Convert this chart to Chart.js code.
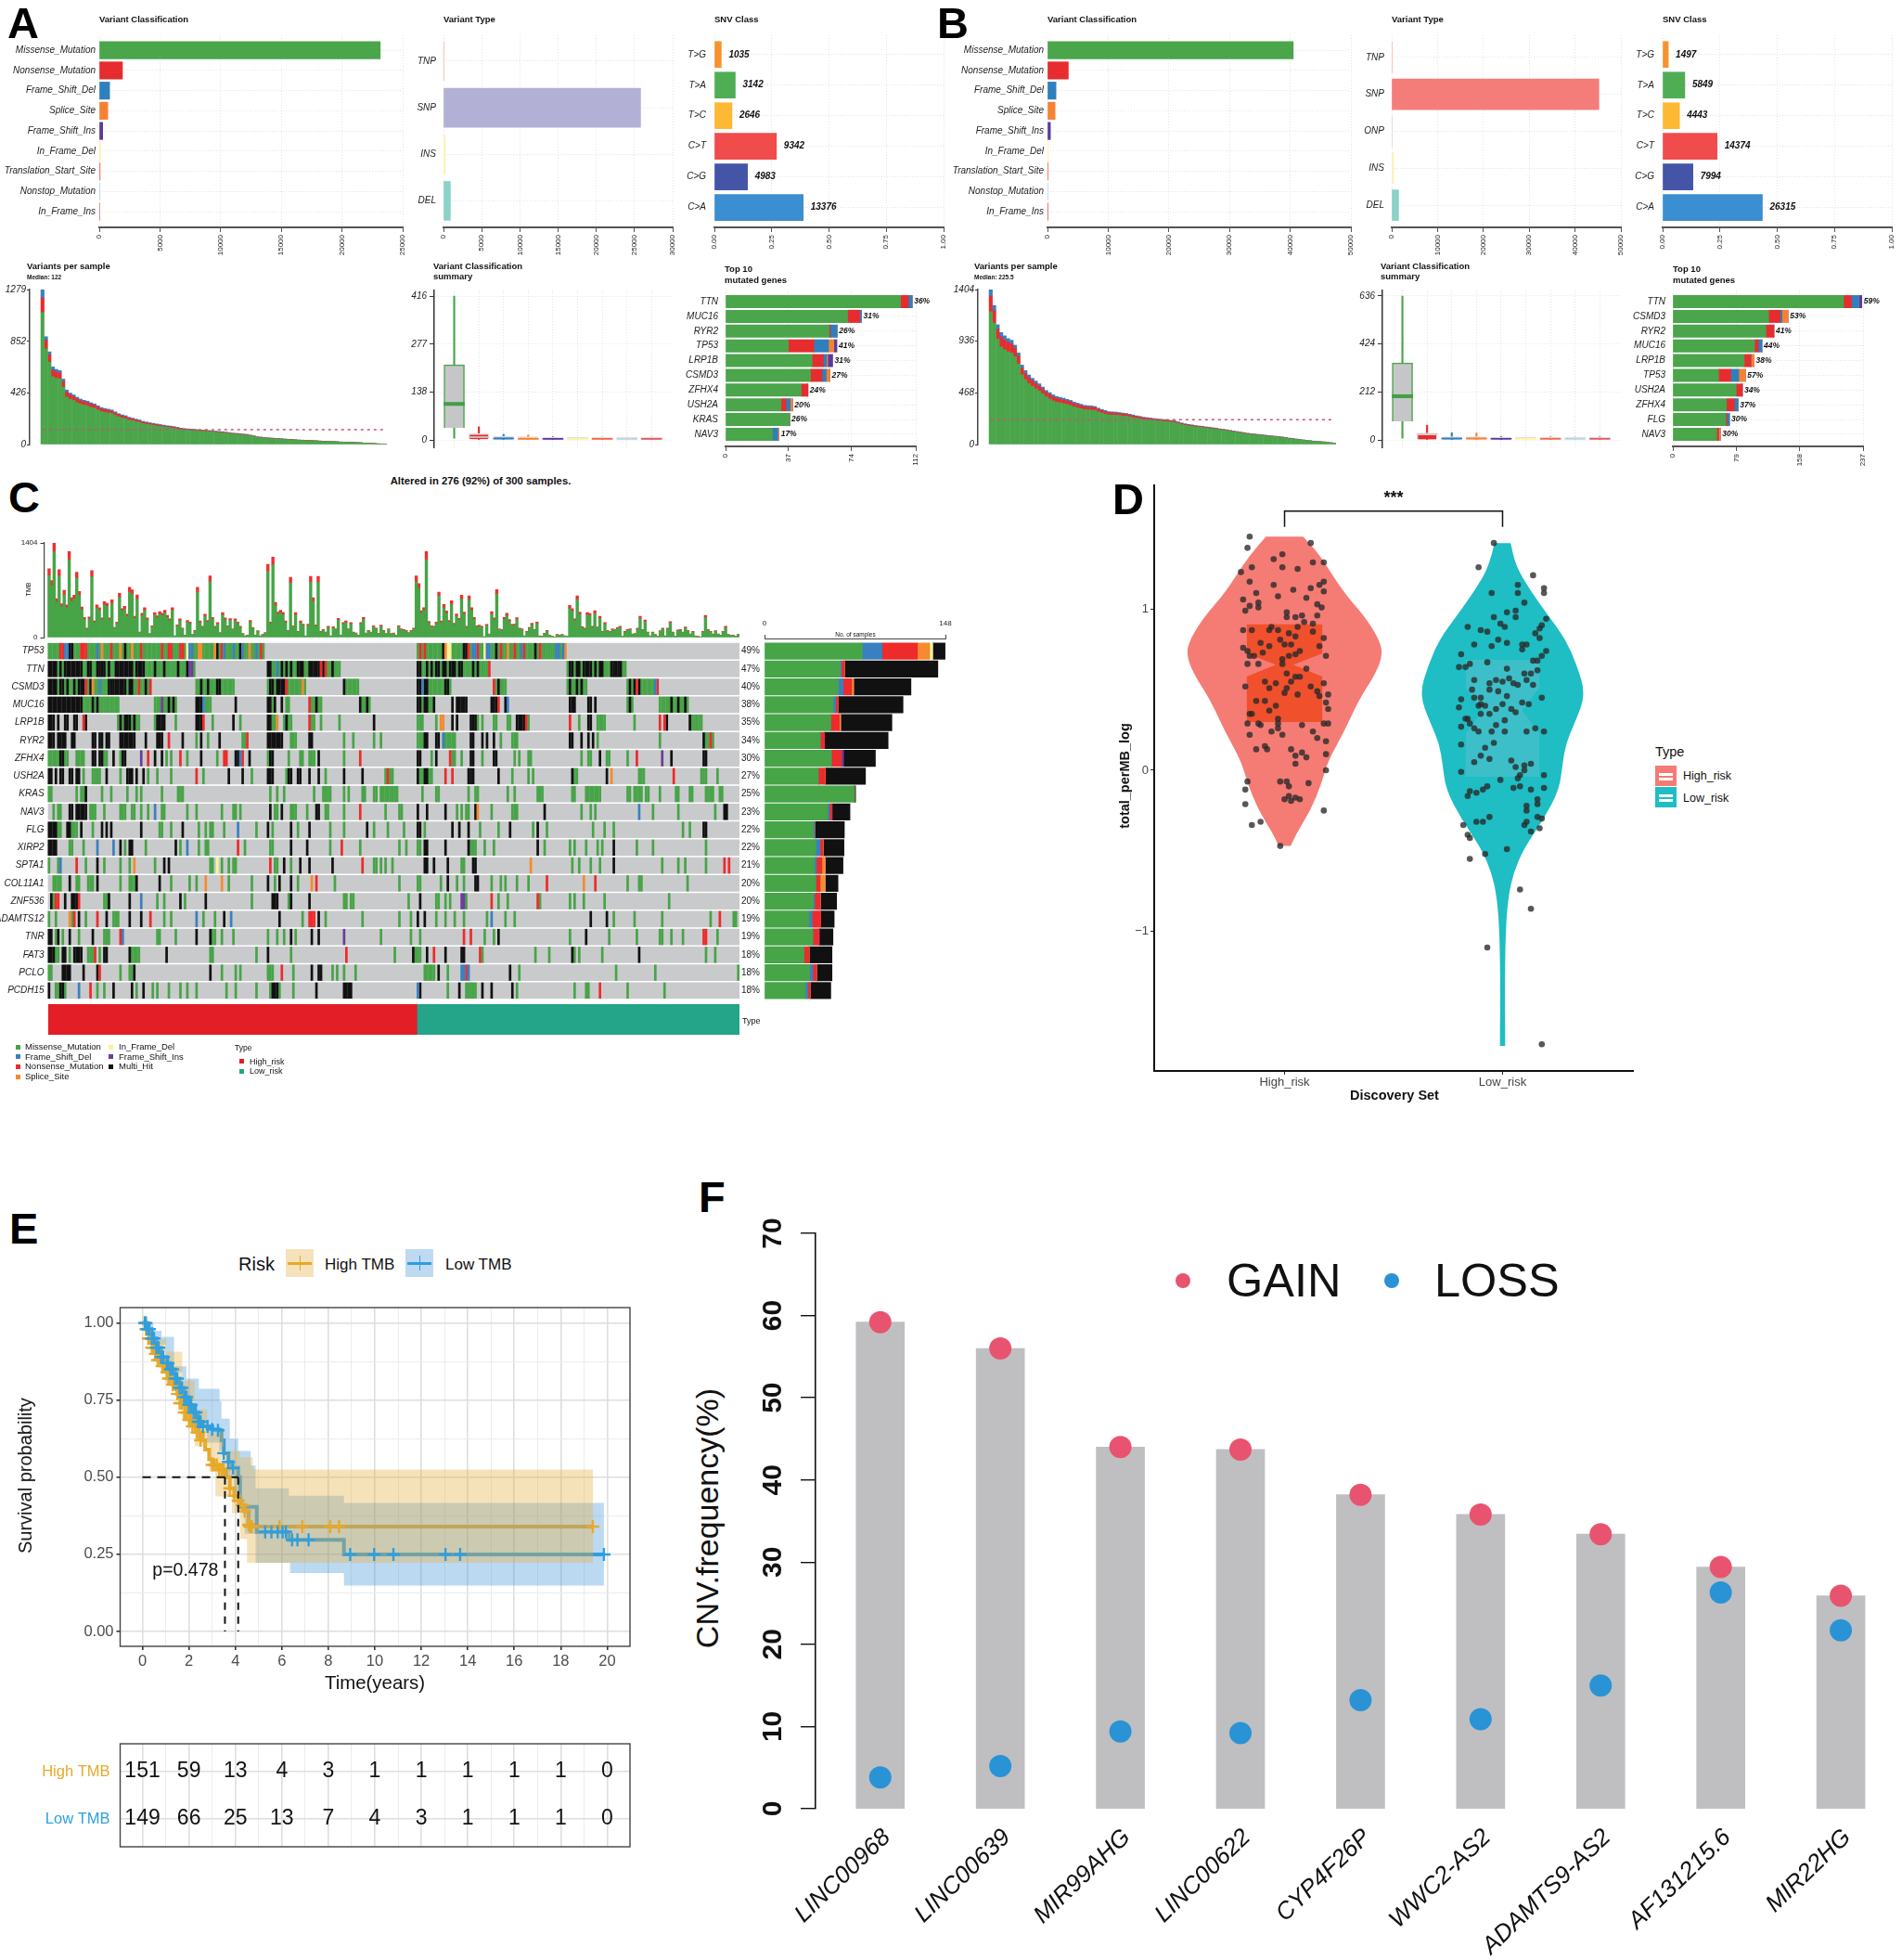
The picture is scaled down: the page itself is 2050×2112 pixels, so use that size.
<!DOCTYPE html>
<html><head><meta charset="utf-8">
<style>
html,body{margin:0;padding:0;background:#fff}
#page{position:relative;width:2050px;height:2112px;overflow:hidden;background:#fff;font-family:"Liberation Sans",Arial,sans-serif}
canvas{position:absolute;display:block}
.t{position:absolute;white-space:nowrap;line-height:1;color:#111}
.k{position:absolute}
</style>
<script src="https://cdn.jsdelivr.net/npm/chart.js@4/dist/chart.umd.js"></script>
</head><body><div id="page"></div>
<script>
// ---------- Data: panels A and B, top row ----------
const classNames=['Missense_Mutation','Nonsense_Mutation','Frame_Shift_Del','Splice_Site','Frame_Shift_Ins','In_Frame_Del','Translation_Start_Site','Nonstop_Mutation','In_Frame_Ins'];
const classColors=['#4AA54B','#E62C2F','#2F7FBD','#F58233','#5B3A9B','#FCF3A6','#F26A4F','#B5D7E8','#DE5C68'];
const classCountA=[23150,1910,850,700,280,100,70,60,40];
const classCountB=[40500,3430,1400,1250,480,130,110,90,50];
const typeNamesA=['TNP','SNP','INS','DEL'];
const typeCountA=[30,25800,230,900];
const typeColorsA=['#F8B9A8','#B3B0D6','#FBF3B5','#8BD2C7'];
const typeNamesB=['TNP','SNP','ONP','INS','DEL'];
const typeCountB=[20,45200,30,400,1500];
const typeColorsB=['#F8B9A8','#F47D79','#D9D9EC','#FBF3B5','#8BD2C7'];
const snvNames=['T>G','T>A','T>C','C>T','C>G','C>A'];
const snvColors=['#F59331','#4FAE54','#FDB933','#F04C4C','#4455A8','#3B8FD0'];
const snvCountA=[1035,3142,2646,9342,4983,13376];
const snvCountB=[1497,5849,4443,14374,7994,26315];
// ---------- Variants per sample ----------
const wfTotalA=[1279,890,765,640,620,610,540,450,425,410,390,375,365,358,345,335,320,305,298,292,285,270,255,245,238,225,218,210,203,192,186,180,175,170,165,160,155,152,148,142,135,132,129,127,125,122,120,118,116,112,110,108,106,102,98,94,92,90,86,84,78,72,64,62,58,56,54,52,50,48,46,44,42,40,38,37,36,34,33,32,30,28,27,26,25,24,22,21,20,19,18,16,15,13,12,10,8,6,4,2];
const wfRedA=[120,70,60,55,50,50,45,40,35,30,30,28,28,26,26,24,24,22,22,20,20,20,18,18,16,16,14,14,12,12,12,10,10,10,10,8,8,8,8,8,7,7,6,6,6,6,6,6,5,5,5,5,5,4,4,4,4,4,4,4,3,3,3,3,3,3,3,3,2,2,2,2,2,2,2,2,2,2,2,2,2,2,1,1,1,1,1,1,1,1,1,1,1,1,1,1,0,0,0,0];
const wfBlueA=[69,30,25,25,22,20,20,18,15,15,14,14,12,12,12,10,10,10,10,10,9,9,8,8,8,8,8,7,7,7,6,6,6,6,6,5,5,5,5,5,4,4,4,4,4,4,4,3,3,3,3,3,3,3,3,3,2,2,2,2,2,2,2,2,2,2,2,2,2,2,1,1,1,1,1,1,1,1,1,1,1,1,1,1,1,1,1,1,1,1,0,0,0,0,0,0,0,0,0,0];
const wfTotalB=[1404,1260,1085,1015,985,960,945,900,830,720,670,630,600,575,550,520,490,470,450,435,428,420,410,400,385,375,365,355,352,350,345,330,318,308,298,296,294,290,285,282,275,268,260,255,248,244,240,236,232,228,226,222,218,214,205,196,188,182,178,172,168,165,160,156,152,148,142,138,134,128,122,118,112,108,102,98,95,92,88,85,80,78,75,72,68,64,58,54,50,46,42,38,35,32,28,26,24,20,16,10];
const wfRedB=[140,110,90,90,85,85,80,75,70,60,55,52,50,48,45,42,40,38,36,35,34,34,32,32,30,30,28,28,26,26,24,24,22,22,20,20,20,18,18,18,16,16,14,14,14,12,12,12,12,10,10,10,10,10,8,8,8,8,8,8,6,6,6,6,6,6,5,5,5,5,4,4,4,4,4,4,3,3,3,3,3,3,3,2,2,2,2,2,2,2,1,1,1,1,1,1,1,0,0,0];
const wfBlueB=[60,50,40,40,40,35,35,30,30,28,26,24,22,22,20,20,18,18,18,16,16,16,14,14,14,14,12,12,12,12,10,10,10,10,9,9,9,8,8,8,8,8,7,7,7,6,6,6,6,6,6,5,5,5,5,5,5,4,4,4,4,4,4,3,3,3,3,3,3,3,3,3,2,2,2,2,2,2,2,2,2,2,1,1,1,1,1,1,1,1,1,1,1,1,1,0,0,0,0,0];
const medianA=122, medianB=225.5;
const wfTicksA=[0,426,852,1279], wfTicksB=[0,468,936,1404];
// ---------- Variant classification summary: [low whisker, q1, median, q3, high whisker] ----------
const sumA=[[5,35,104,217,416],[0,2,8,18,38],[0,0,4,10,16],[0,0,3,9,14],[0,0,3,8,9],[0,0,3,8,8],[0,0,3,8,8],[0,0,3,8,8],[0,0,3,8,8]];
const sumB=[[8,82,193,340,636],[0,2,24,30,65],[0,0,6,14,32],[0,0,6,14,30],[0,0,5,12,14],[0,0,5,12,14],[0,0,5,12,14],[0,0,5,12,14],[0,0,5,12,14]];
const sumTicksA=[0,138,277,416], sumTicksB=[0,212,424,636];
// ---------- Top 10 mutated genes ----------
const topGenesA=['TTN','MUC16','RYR2','TP53','LRP1B','CSMD3','ZFHX4','USH2A','KRAS','NAV3'];
const topPctA=['36%','31%','26%','41%','31%','27%','24%','20%','26%','17%'];
const topMissenseA=[103,71.8,61,37,51,50,44.5,32.7,37.7,27.6];
const topNonsenseA=[4.7,7.2,0.7,15,6.5,6.8,4,2.9,0,0];
const topFsDelA=[2.2,1,4,8.6,2,2.5,0,2.5,0,3.2];
const topSpliceA=[0,0,0,3.2,0.7,2.2,0,1.4,0,0.7];
const topOtherA=[0,0,0,1.8,2.9,0,0,0,0,0];
const topGenesB=['TTN','CSMD3','RYR2','MUC16','LRP1B','TP53','USH2A','ZFHX4','FLG','NAV3'];
const topPctB=['59%','53%','41%','44%','38%','57%','34%','37%','30%','30%'];
const topMissenseB=[212.7,119.3,116,101.8,88.9,57,79,66.8,66,54.7];
const topNonsenseB=[9.9,14.4,9.9,4.6,8.4,15.2,7.6,9.9,1.5,2.3];
const topFsDelB=[9.1,2.3,0,4.6,0,9.9,0,4.6,3,0];
const topSpliceB=[0,7.6,0,0,3.8,8.4,0,0,0,2.3];
const topOtherB=[3.8,0,0,0,0,0,0,0,0,0];
// ---------- Panel C ----------
const tmbTotal=[1020,845,1404,577,1007,500,700,485,1275,590,628,970,684,453,300,139,305,993,245,485,444,291,531,508,291,559,152,231,656,430,462,347,744,707,314,633,83,360,444,291,60,175,370,323,383,360,406,328,277,444,28,189,277,139,37,254,231,46,106,744,245,166,347,254,915,300,166,222,74,370,291,175,282,129,277,231,166,60,28,37,254,148,37,102,28,46,74,1085,231,1192,522,379,406,374,245,106,892,175,370,92,245,199,28,199,906,591,189,906,92,120,83,166,28,162,129,286,37,222,245,129,222,83,69,37,222,300,69,106,83,175,139,65,185,106,60,129,
60,69,37,175,129,120,106,74,106,139,915,800,397,444,1275,240,175,166,231,675,245,490,393,254,545,212,351,286,628,379,166,619,444,300,175,185,166,14,194,55,383,291,711,129,120,300,360,268,194,199,296,139,129,28,92,152,212,120,231,28,18,65,106,37,18,9,46,37,46,28,18,476,430,277,619,379,162,139,370,356,166,397,157,314,92,222,106,92,129,120,148,166,18,92,120,129,55,60,139,314,120,259,83,28,83,46,18,102,139,28,139,235,83,18,111,120,83,157,106,55,92,28,18,9,92,328,120,92,55,102,55,37,92,166,46,37,37,18,46];
const tmbNonMissense=[100,75,130,50,95,45,65,45,120,55,55,90,60,40,30,15,30,90,25,45,40,28,48,45,28,50,15,22,60,40,42,32,70,65,30,58,9,35,40,28,8,17,34,30,35,34,38,30,26,40,4,18,26,14,5,24,22,6,10,68,24,16,32,24,85,28,16,20,8,34,28,17,26,12,26,22,16,8,4,5,24,14,5,10,4,6,8,100,22,110,48,35,38,34,24,10,82,17,34,9,24,18,4,18,84,55,18,84,9,12,8,16,4,15,12,26,5,20,24,12,20,8,7,5,20,28,7,10,8,17,13,6,17,10,8,12,
8,7,5,17,12,12,10,8,10,13,85,75,37,40,120,22,17,16,22,62,24,45,36,24,50,20,32,26,58,35,16,57,40,28,17,18,16,3,18,6,35,27,65,12,12,28,33,25,18,18,27,13,12,4,9,14,20,12,22,4,3,7,10,5,3,2,5,5,5,4,3,44,40,26,57,35,15,13,34,33,16,37,15,29,9,20,10,9,12,12,14,16,3,9,12,12,6,6,13,29,12,24,8,4,8,5,3,10,13,4,13,22,8,3,11,12,8,15,10,6,9,4,3,2,9,30,12,9,6,10,6,5,9,16,5,5,5,3,5];
const oncoGenes=['TP53','TTN','CSMD3','MUC16','LRP1B','RYR2','ZFHX4','USH2A','KRAS','NAV3','FLG','XIRP2','SPTA1','COL11A1','ZNF536','ADAMTS12','TNR','FAT3','PCLO','PCDH15'];
const oncoPct=['49%','47%','40%','38%','35%','34%','30%','27%','25%','23%','22%','22%','21%','20%','20%','19%','19%','18%','18%','18%'];
// One string per gene: type letter + position along the sample strip (M missense, F frameshift del, N nonsense, S splice, D in-frame del, I frameshift ins, H multi-hit)
const oncoTP53='M0-93 N5-6 F7-9 H9-10 N14-16 F21 S23 N27 S31 H33 S36 N40 N49 N52-53 N57-58 D60 F61-62 S65-66 S72 H73 N75 F76 F80 H83 F84 S87 F90 N92 M160-224 N161 N163 H171 S172 D173-174 H180-181 N182 F184-185 N186 D189 F190-191 H194 N196 S199 N202 F205 N206 H211 N213 F220-221 F223 S224';
const oncoTTN='M0-63 H0-3 H5 H7-14 H17-18 H21-24 H26 H29-36 H38-41 H46 H50 H56 H60 I61-62 M95-126 H95-96 F99 H101 H103 H105 H108-110 H113-117 N118 H119 N120 H123 M160-191 H160-161 H164 H166 H168-169 H171-172 H174-176 H178-179 H184 H186 N191 M225-250 H226-227 H229-230 H232-235 H237 H239-240 H244-248';
const oncoCSMD3='M0-44 H0-3 H5-6 H8 H11 H13-15 N16 H18 S19 F22 H26-28 H29-33 H35-36 N39 H42 N44 M64-80 H66 H69 H73-74 M95-111 H96-97 H99-102 N103 S110 M128-134 H128 M160-174 H160-161 F162 H163-164 H172-173 M193-198 N193 H195 M225-233 H226 H229 H231 M251-264 H252 H254 N255 H256 F263 N264';
const oncoMUC16='H0-14 M15-30 H19 H21 M46-55 I49 H52 H54 H64-66 F67 M68-70 H81 H95-96 M97-98 H98 H101 M103-104 N113 M114-118 H116 H135 M136-139 H138 H160-161 M162 H163-164 M165-167 H167 H175 H177-181 H192-194 N195 H198 F199 H226-228 H234-235 H237 M251-253 H252 M265-277 H270 H273 H276';
const oncoLRP1B='H0-2 H4 H7-8 H11-12 N15 H16 M30-39 H31 H33-35 H37 M46 H47-50 M55 H64-66 N67 M71 H80 M83 H95-96 M97-98 S99 M102 H103 M104-105 N113 M114-115 M118 M126 H141 M160-162 M168 S170-171 H175 H177 H183-185 M186 M188 M193-194 M199-200 H203-206 N207 M208 N226 M230 H234-235 M238-241 M254 N265 N267 H268 H278 M279-283';
const oncoRYR2='H0-2 H4-7 H10-11 H19-20 H22-23 H25-26 H31-33 H34-37 H42 H47-49 N52 H58 M64 H66 M69 H74 M84-85 N86 H95 H96-101 M105-107 H113-114 M128 M132 M141 M144 M160-162 H163-164 H168-169 F171 M172-174 M175-176 H183-184 H188 H190 H193 M196 M201-203 H226-227 H231 H234 H236 M238 M265 H284 M285-288 N287';
const oncoZFHX4='M0-4 H5-6 M7-8 M12-15 H19-20 H22-23 M24-25 H28 M31 H32-33 I40 N43 H46 H49 M51 M53 N57 M60 H66 M73 N76-77 H81-82 F83 N84 H87 M95 H96-97 M104 M109-110 M113-115 H117 M128 N135 H160-161 M166 H168 N174 M175-176 M179 H183-184 M188 H193-194 M202 M204 M208-209 M231 M234-235 H239 M242-243 M251 N255 I266 H270 H284-285';
const oncoUSH2A='H0-1 H3 H5-6 H9-10 H12-13 M15 M19-22 H25 M31 H34-36 H38 H41 M43 M47 M53 N64 M67 H78 H84 M88 H95-97 M103 H104-105 H108-109 H113 H117 M120 H128 H136 M146 N147 M148-149 H160 M161-162 H163-164 M165-166 N172 N175 H182-184 H195 M201 M208 M210 H227 M228-229 H242 S244 M256-258 N271 M283-285 M290';
const oncoKRAS='M0-1 M12 M14-15 H16 M23 M27 M34 M38 M40 M49 M56-57 M58 M96 M99 M102 M115 M119-122 M128 M130 M136-137 M141-142 M144-149 M150-151 M162 M168-169 M182 M185-186 M199 M202 M212-214 M227-228 M233-239 M251-252 M254-257 M259-260 M265 M272-273 M278-279 M285 M286-288 M291-292';
const oncoNAV3='M2 M4-5 H9-10 H12-14 H15-16 M18-20 M24 M31-33 M36-37 M40 M43 F46 M49-50 M60 M64 M75 M80-81 M83 H96 M98-99 H101 M105-107 M112 H116-117 M120-121 M128 N135 M146 M152-153 H160 H164 H172 M177 M179 M181-182 H185 S186 M192 M201-203 H215 M231 M235 M237 F256 M262 M273 M289 H293-294';
const oncoFLG='H0-1 H2-3 M4-5 H8-9 M10-12 H14 M19 H23 H25 H27 H40 M48-49 M53 H58 M65 M68 M70-71 M76 F82 M90 H95 M97 H105 M108 H113 M122 M128 H138 M141 M147 M154 H160-161 M163 H175 H178 H182 M187 M195 H200 M210 H212 M216 M236 M241 M245 M275 M278 H284-285';
const oncoXIRP2='H0-3 M9-10 M15 F21 F28 H31 M33 H35-36 M42 H55 M57 F60 M65 M68-69 N82 M85 M96-97 H105 H112 M122 N127 M135 M152 M155 M160-161 H163-164 H172 H182 M183-185 M189 M193 H212 M215 M226 M228 M233 M238 M240 H245 M255 M262 M285';
const oncoSPTA1='M0 M4 F5 N12 M16 H21 M24 M31 M35 S37 M46 H50 H52 M70-71 D73 M75 M78 M80-81 N96 M98-99 H102 M105 H109 H113 H123 N136 M141-142 M144 M146 M149 H163-164 H167 H173 M179-180 H184-185 S209 M227 M230 M235 M239 H245 M266 M273 M276 M285 N293 N295';
const oncoCOL11A1='M2-5 H9 M12-13 M17-19 H21 M31 M35-37 H38 H48 M53 M61 M64 S68 S75 M78 M88 H95 M98 H100 H105 M108 S114 N116 M124 M152 M160-161 M170 H173 M177 M180 H185-186 M192 M196 M198 M203 M208 N216 S232 N237 M251 M256-257 M277';
const oncoZNF536='H1 M2 N3-4 H7 H10-12 N13 M24-25 H26 H35 F40 M47 M50 H57 M59 H68 M88 H97-99 M104 H105 H113 M128-129 M131-132 M156 H161 M168-169 M172 M174 M179 I179-180 M181 N192 M195 M199 N212 M213 M226 M228 M232 M241 M269';
const oncoADAMTS12='M0 M3 S9 M10 N11 H13 M16 N21 H25 M28-30 H35 H40 N44 M50 M53 F64 M67 M72 H76 F79 H100 M110 N113-115 H117 M120 M136 M152 M157 H160 H163 M168 M172 M176 M180 M190 F192 M198 M202 H235 H242 M245 M254 M266 M287 N291 M297-298';
const oncoTNR='H0-1 M3 H4 M6 H9 M13 H19 M24-26 N31 F32 M47-48 M55 H64 H70 M71-72 M75 M80 M95 M99 M102 H105 M107 H114 H117 I128 M144 M157 M161 N180 N183 M189 M193 H195 M226 H233 M243 M255 M265-266 M270 M275 N284-285 M290';
const oncoFAT3='H0-2 M3-4 H6-7 M9 H11-14 M17-19 N20 M22 H24-25 H35 M36-39 H51 M70-71 M90 H95 M105 N129 M150 H158 M159-161 H164 N167 H172 H179-180 N187 M188 M211 M217 H227 M228 M230 M240 H256 M285 M289';
const oncoPCLO='M0-1 H6-9 H15 H21 N22 M31 M35-36 H37 H70 M75 M81 M83 M95-97 N101 M106 H114 H117-118 M123 M125 M128 M133 M163-165 M166-167 H169 M173 F179-180 N181 F182 H200 M204 M246 M263 M299';
const oncoPCDH15='H0 M3-4 H5-6 M7 F13 N18 M21 M24 H28 H36 M38 H41 M45 M47 M52 M57 M60 M64 M77 M81 M90 M96 H97-99 M100 M106 H116 H128-129 H130-131 F160 H161 M173 H178 M181-185 H188 H192 H201 M203 M228 M233-234 N239 M251 M267';
const oncoRows=[oncoTP53,oncoTTN,oncoCSMD3,oncoMUC16,oncoLRP1B,oncoRYR2,oncoZFHX4,oncoUSH2A,oncoKRAS,oncoNAV3,oncoFLG,oncoXIRP2,oncoSPTA1,oncoCOL11A1,oncoZNF536,oncoADAMTS12,oncoTNR,oncoFAT3,oncoPCLO,oncoPCDH15];
const cBarMissense=[80,61.8,60.3,56.3,54.2,45.6,54.7,44,73.5,51.7,40,42,41,42,40,36.5,39.5,32.4,37,33.5];
const cBarFsDel=[16.2,1,4,2,0,0,0,0,0,1.5,1,3.5,1.5,0,1,2.5,0,0,2.5,2];
const cBarNonsense=[28.9,2.5,7,2,7,3.5,8,5.6,0,2,0,2.5,4.5,3.5,4.5,7,5,4,3,2];
const cBarSplice=[10,0,1.5,0,1,0,0,0,0,0,0,0,2.5,4,0,0,0,0,0,0];
const cBarInDel=[2.5,0,0,0,0,0,0,0,0,0,0,0,0,0,0,0,0,0,0,0];
const cBarFsIns=[0,0,0,0,0,0,2,0,0,0,0,0,0,0,0.5,0,0.5,0,0,0];
const cBarMulti=[10.1,76.5,47,53,42,52,26,33,1,14.7,24.3,17,14.7,10.6,13,11,11,18.8,12.7,16.7];
const typeSplit=[160,140];
// ---------- Panel D ----------
const violinHighY=[1.45,1.34,1.105,0.95,0.82,0.727,0.603,0.435,0.23,0.06,-0.08,-0.247,-0.40,-0.47];
const violinHighW=[0.085,0.16,0.27,0.37,0.43,0.452,0.42,0.34,0.27,0.2,0.17,0.12,0.05,0.028];
const violinLowY=[1.41,1.27,1.12,0.96,0.81,0.655,0.47,0.29,0.165,0.036,-0.12,-0.30,-0.48,-0.634,-0.79,-0.995,-1.38,-1.61,-1.71];
const violinLowW=[0.037,0.06,0.125,0.21,0.29,0.34,0.382,0.33,0.29,0.275,0.26,0.19,0.10,0.05,0.026,0.014,0.01,0.012,0.012];
const boxHigh={top:0.905,notchTop:0.724,waist:0.655,notchBottom:0.582,bottom:0.30,half:0.173,waistHalf:0.04};
const boxLow={top:0.685,notchTop:0.513,waist:0.37,notchBottom:0.23,bottom:-0.04,half:0.169,waistHalf:0.09};
const ptsHighX=[-.16,-.17,.12,-.01,-.05,.13,.18,-.01,.06,-.15,-.20,-.16,.18,.16,-.05,.12,.04,-.13,.18,-.03,.10,-.19,-.12,-.16,.15,-.12,.17,-.18,.01,.08,.05,.15,.01,.09,.13,-.19,-.15,-.07,-.03,-.06,.02,.06,.13,.05,-.02,-.11,-.07,0,.03,.18,.16,-.19,-.17,-.10,.07,.05,-.16,-.14,.02,.19,-.01,-.12,-.17,-.01,.10,.01,.07,.05,.03,-.09,-.04,-.18,-.07,.12,.18,.01,.15,.06,0,.20,.16,-.13,-.09,.19,-.04,-.07,.20,-.15,-.16,-.03,-.17,-.12,-.11,-.03,.08,.18,.20,-.03,-.06,.13,-.16,-.01,.15,.19,-.13,-.09,-.08,.03,.08,.05,.19,.10,.05,.19,-.02,.01,-.17,.11,.02,-.18,.02,0,.07,.05,.03,-.18,.18,-.11,-.15,-.02];
const ptsHighY=[1.45,1.38,1.41,1.34,1.31,1.29,1.29,1.26,1.25,1.26,1.23,1.17,1.17,1.15,1.15,1.13,1.12,1.10,1.11,1.08,1.07,1.06,1.04,1.02,1.03,1.01,1.01,.99,.98,.96,.95,.96,.95,.92,.91,.87,.87,.87,.87,.89,.85,.89,.86,.83,.81,.79,.77,.78,.78,.82,.77,.76,.74,.73,.74,.72,.71,.71,.71,.71,.69,.66,.66,.66,.63,.60,.58,.58,.55,.55,.54,.52,.51,.52,.54,.51,.49,.47,.48,.47,.46,.43,.43,.42,.40,.37,.38,.35,.35,.32,.29,.29,.28,.29,.28,.29,.29,.26,.24,.24,.22,.22,.20,.18,.13,.15,.13,.13,.11,.09,.10,.08,.04,0,-.07,-.07,-.07,-.08,-.10,-.12,-.16,-.18,-.18,-.17,-.19,-.21,-.25,-.32,-.34,-.47];
const ptsLowX=[-.04,-.11,.14,.07,.19,.19,-.05,.07,.10,.06,.02,-.04,.06,.20,-.01,-.16,.01,.18,.17,-.10,-.07,.15,.17,-.02,.02,-.13,-.05,.09,.11,.09,.20,.18,-.19,.14,.16,-.07,-.15,-.20,-.17,.02,.16,.10,.13,-.13,.03,.11,-.06,0,-.03,.05,.07,.14,-.14,-.06,-.02,.02,-.19,-.13,-.10,.18,.09,.12,0,-.10,-.11,-.08,-.20,-.03,.04,.06,-.10,-.06,-.17,-.16,.01,-.15,-.19,-.03,-.13,-.11,-.05,.01,.11,.15,.19,-.19,-.04,-.08,-.10,-.13,-.06,.04,.13,.10,.06,-.19,.10,.08,.19,.07,-.01,-.07,.08,.05,.13,.19,-.09,-.15,-.12,-.16,.16,.16,.11,.11,-.06,.16,.18,-.12,-.09,.11,.10,-.18,.17,.13,-.16,-.15,.02,-.08,-.15,.08,.13,-.07,.18];
const ptsLowY=[1.41,1.26,1.21,1.15,1.13,1.10,1.10,1.10,1.04,.99,.98,.95,.95,.94,.91,.89,.89,.90,.88,.87,.86,.85,.82,.81,.79,.78,.77,.78,.78,.75,.74,.71,.72,.68,.68,.67,.66,.64,.64,.63,.62,.60,.60,.56,.57,.56,.54,.55,.56,.54,.53,.53,.50,.50,.49,.46,.44,.45,.45,.45,.42,.41,.41,.41,.40,.40,.39,.38,.38,.36,.35,.35,.32,.32,.31,.29,.27,.28,.26,.24,.24,.24,.24,.26,.24,.16,.17,.14,.09,.05,.07,.06,.04,.03,.02,-.01,0,-.03,-.03,-.05,-.06,-.10,-.10,-.11,-.12,-.11,-.12,-.13,-.14,-.16,-.18,-.21,-.22,-.25,-.29,-.29,-.30,-.32,-.32,-.32,-.34,-.34,-.36,-.38,-.40,-.42,-.49,-.52,-.55,-.74,-.86,-1.10,-1.70];
// ---------- Panel E ----------
const timeHigh=[0,.15,.3,.46,.6,.75,.91,1.05,1.2,1.36,1.5,1.7,1.9,2.07,2.25,2.43,2.6,2.7,2.87,3.0,3.3,3.6,3.76,3.95,4.12,4.25,4.4,4.57,4.75,19.4];
const survHigh=[1,.98,.95,.92,.90,.88,.86,.84,.82,.80,.77,.74,.71,.686,.665,.645,.62,.59,.558,.54,.525,.50,.464,.44,.424,.41,.39,.346,.34,.34];
const timeLow=[0,.2,.4,.6,.8,1.05,1.2,1.4,1.6,1.8,2,2.2,2.4,2.6,3.0,3.3,3.4,3.5,3.7,3.85,4.12,4.2,4.7,4.92,6.3,8.67,19.9];
const survLow=[1,.98,.95,.92,.89,.87,.85,.82,.79,.76,.735,.71,.68,.665,.655,.652,.62,.578,.55,.53,.50,.404,.404,.323,.297,.25,.25];
const upHighT=[0,.46,1,1.71,2.25,2.78,3.5,4.2,4.75,19.4], upHighS=[1,.948,.907,.813,.72,.652,.585,.565,.525,.522];
const loHighT=[0,.46,1,1.71,2.25,2.87,3.14,3.85,4.2,4.5,19.4], loHighS=[1,.907,.80,.69,.60,.518,.438,.384,.30,.223,.223];
const upLowT=[0,.28,.82,1.36,1.89,2.43,3.32,3.4,3.76,4.12,4.66,4.87,6.3,8.67,19.86], upLowS=[1,.975,.955,.86,.82,.787,.746,.69,.625,.585,.538,.464,.44,.417,.417];
const loLowT=[0,.46,1,1.71,2.25,2.78,3.3,3.6,3.94,4.2,4.4,4.87,6.35,8.67,19.86], loLowS=[1,.93,.84,.746,.665,.612,.585,.505,.45,.384,.317,.223,.19,.149,.149];
const censorHighT=[.1,.15,.25,.3,.4,.46,.55,.65,.75,.85,.95,1.05,1.12,1.2,1.3,1.4,1.5,1.6,1.7,1.8,1.9,2,2.07,2.15,2.25,2.35,2.43,2.5,3.0,3.1,3.2,3.3,3.4,3.5,3.76,3.95,4.12,4.3,4.4,4.57,4.62,4.7,5.9,6.88,8.08,8.46,19.38];
const censorHighS=[1,.98,.95,.95,.92,.92,.90,.88,.88,.86,.86,.84,.82,.82,.80,.80,.77,.74,.74,.71,.71,.686,.686,.665,.665,.645,.645,.62,.54,.54,.54,.525,.525,.525,.464,.44,.424,.41,.39,.346,.34,.34,.34,.34,.34,.34,.34];
const censorLowT=[.1,.15,.2,.3,.4,.5,.6,.7,.8,.9,1.05,1.1,1.2,1.3,1.4,1.5,1.6,1.7,1.8,1.9,2,2.1,2.2,2.3,2.4,2.5,2.6,2.8,3.0,3.25,3.5,3.7,3.9,5.28,5.55,5.82,6.03,6.17,6.44,6.67,7.15,8.94,9.97,10.8,13.04,13.67,19.86];
const censorLowS=[1,1,.98,.98,.95,.95,.92,.92,.89,.89,.87,.87,.85,.85,.82,.82,.79,.79,.76,.76,.735,.735,.71,.71,.68,.68,.665,.665,.655,.652,.578,.55,.53,.323,.323,.323,.323,.323,.297,.297,.297,.25,.25,.25,.25,.25,.25];
const riskTimes=[0,2,4,6,8,10,12,14,16,18,20];
const riskHigh=[151,59,13,4,3,1,1,1,1,1,0];
const riskLow=[149,66,25,13,7,4,3,1,1,1,0];
// ---------- Panel F ----------
const cnvGenes=['LINC00968','LINC00639','MIR99AHG','LINC00622','CYP4F26P','WWC2-AS2','ADAMTS9-AS2','AF131215.6','MIR22HG'];
const cnvGain=[59.2,56,44,43.7,38.2,35.8,33.4,29.4,25.9];
const cnvLoss=[3.8,5.2,9.4,9.2,13.2,10.9,15,26.3,21.7];

// ---------- Helpers ----------
const page=document.getElementById('page');
const FONT='"Liberation Sans"';
Chart.defaults.font.family=FONT;
Chart.defaults.animation=false;
Chart.defaults.responsive=false;
Chart.defaults.events=[];
Chart.defaults.plugins.legend.display=false;
Chart.defaults.plugins.tooltip.enabled=false;
Chart.defaults.color='#222';

function T(text,x,y,o={}){
  const d=document.createElement('div');d.className='t';d.textContent=text;
  const size=o.size||10;
  let s=`left:${x}px;top:${y}px;font-size:${size}px;`;
  if(o.bold)s+='font-weight:bold;';
  if(o.italic)s+='font-style:italic;';
  if(o.color)s+=`color:${o.color};`;
  const tx=o.align==='center'?'-50%':(o.align==='right'?'-100%':'0');
  s+=`transform:translate(${tx},-50%)${o.rot?` rotate(${o.rot}deg)`:''};`;
  d.style.cssText=s;page.appendChild(d);return d;
}
function K(x,y,w,h,c,extra=''){const d=document.createElement('div');d.className='k';d.style.cssText=`left:${x}px;top:${y}px;width:${w}px;height:${h}px;background:${c};${extra}`;page.appendChild(d);return d;}
const at=arr=>s=>{s.ticks=arr.map(v=>({value:v}));};
function plot(r,m,cfg){
  const [l,t,rr,b]=r,ml=m[0],mt=Math.max(m[1],12),mr=Math.max(m[2],12),mb=Math.max(m[3],12);
  const c=document.createElement('canvas');
  const W=Math.round(rr-l+ml+mr),H=Math.round(b-t+mt+mb);
  c.width=W;c.height=H;c.style.left=(l-ml)+'px';c.style.top=(t-mt)+'px';c.style.width=W+'px';c.style.height=H+'px';
  page.appendChild(c);
  const pad={left:ml,top:mt,right:mr,bottom:mb};
  const sc=cfg.options.scales||{};
  Object.values(sc).forEach(s=>{
    if(s.display===false)return;
    const pos=s.position;
    pad[pos]=0;
    s.afterFit=a=>{
      if(pos==='left'||pos==='right')a.width=pos==='left'?ml:mr; else a.height=pos==='top'?mt:mb;
      a.paddingLeft=a.paddingRight=a.paddingTop=a.paddingBottom=0;
    };
  });
  cfg.options.layout={padding:pad};
  return new Chart(c,cfg);
}
// draws text labels anchored in data coordinates through the chart's scales
function dataText(items,xs='x',ys='y'){return {id:'dataText',afterDatasetsDraw(ch){
  const c=ch.ctx;c.save();
  items.forEach(i=>{c.font=i.font;c.fillStyle=i.color||'#111';c.textAlign=i.align||'left';c.textBaseline='middle';
    c.fillText(i.text,ch.scales[xs].getPixelForValue(i.x)+(i.dx||0),ch.scales[ys].getPixelForValue(i.y)+(i.dy||0));});
  c.restore();}};}
const zip=(a,b)=>a.map((v,i)=>({x:v,y:b[i]}));
const GRID='#e4e4e4';
const xAxis=(max,ticks,fmt)=>({type:'linear',position:'bottom',min:0,max,
  afterBuildTicks:at(ticks),
  ticks:{minRotation:90,maxRotation:90,autoSkip:false,font:{size:8},color:'#222',padding:3,callback:fmt||(v=>String(v))},
  grid:{color:GRID,tickColor:'#555',tickLength:5,drawTicks:true},border:{display:true,color:'#555',width:2,dash:[1,2]}});
const rowAxis=(names,min,max,pad)=>({type:'linear',position:'left',reverse:true,min,max,stacked:true,offset:false,
  afterBuildTicks:at(names.map((_,i)=>i)),
  ticks:{autoSkip:false,font:{size:10,style:'italic'},color:'#222',padding:pad,callback:v=>names[v]},
  grid:{color:GRID,drawTicks:false,offset:false},border:{display:false,dash:[1,2]}});

function simpleBars(rect,ml,names,vals,colors,xa,rowMin,rowMax,thick,pad,extra=[]){
  return plot(rect,[ml,4,6,40],{type:'bar',
    data:{datasets:[{data:vals.map((v,i)=>({x:v,y:i})),backgroundColor:colors,barThickness:thick}]},
    options:{indexAxis:'y',scales:{x:xa,y:rowAxis(names,rowMin,rowMax,pad)}},plugins:extra});
}
const pctFmt=v=>v.toFixed(2);

function panelTop(ox,classes,typeNames,typeCounts,typeColors,typeMax,typeTicks,typeRange,typeThick,snv,classMax,classTicks,typeLeft,snvLeft,classLeft){
  simpleBars([classLeft,38,classLeft+326.6,245],classLeft-ox+0,classNames,classes,classColors,xAxis(classMax,classTicks),-0.745,8.78,18.5,4);
  simpleBars([typeLeft,38,typeLeft+247,245],40,typeNames,typeCounts,typeColors,xAxis(typeMax,typeTicks),typeRange[0],typeRange[1],typeThick,8);
  const tot=snv.reduce((a,b)=>a+b,0),frac=snv.map(v=>v/tot);
  simpleBars([snvLeft,38,snvLeft+247,245],40,snvNames,frac,snvColors,xAxis(1,[0,.25,.5,.75,1],pctFmt),-0.63,5.65,28,9,
    [dataText(snv.map((v,i)=>({x:frac[i],y:i,text:String(v),dx:8,font:'italic bold 10px '+FONT})))]);
}
panelTop(2,classCountA,typeNamesA,typeCountA,typeColorsA,30000,[0,5000,10000,15000,20000,25000,30000],[-.558,3.57],42,snvCountA,25000,[0,5000,10000,15000,20000,25000],478,770,107);
panelTop(1024,classCountB,typeNamesB,typeCountB,typeColorsB,50000,[0,10000,20000,30000,40000,50000],[-.6,4.6],33,snvCountB,50000,[0,10000,20000,30000,40000,50000],1500,1792,1129);

function waterfall(l,r,total,red,blue,med,ticks,ml){
  const n=total.length,ys=(a)=>a.map((v,i)=>({x:i,y:v}));
  plot([l,312,r,479],[ml,6,4,6],{type:'bar',data:{datasets:[
    {type:'line',data:[{x:0,y:med},{x:n-1,y:med}],borderColor:'#C8546F',borderWidth:1.6,borderDash:[3,4],pointRadius:0,order:0},
    {data:ys(total.map((v,i)=>v-red[i]-blue[i])),backgroundColor:'#4AA54B',barThickness:3.5,order:1},
    {data:ys(red),backgroundColor:'#E62C2F',barThickness:3.5,order:1},
    {data:ys(blue),backgroundColor:'#3B80BE',barThickness:3.5,order:1}]},
   options:{scales:{
     x:{type:'linear',display:false,min:-3.7,max:n-.5,stacked:true,offset:false},
     y:{type:'linear',position:'left',min:0,max:ticks[3],stacked:true,afterBuildTicks:at(ticks),
        ticks:{font:{size:10,style:'italic'},color:'#222',padding:1,callback:v=>String(v)},
        grid:{display:true,drawOnChartArea:false,tickLength:3,tickColor:'#333'},border:{display:true,color:'#444',width:1.5}}}}});
}
waterfall(32,417,wfTotalA,wfRedA,wfBlueA,medianA,wfTicksA,32);
waterfall(1054,1440,wfTotalB,wfRedB,wfBlueB,medianB,wfTicksB,36);

function summary(l,stats,ticks){
  const top=ticks[3],k=155/top;
  const xs=stats.map((_,i)=>i);
  const cols=classColors.map((c,i)=>i===0?'#C6C6C8':c);
  const bord=classColors.map((c,i)=>i===0?'#4AA54B':'#EADFDF');
  const ds=[
    {label:'median',data:stats.map((s,i)=>({x:i,y:[s[2]-top*.011*(i?.3:1),s[2]+top*.011*(i?.3:1)]})),backgroundColor:classColors.map((c,i)=>i===0?'#3FA044':(i===1?'#cfcfcf':c)),barThickness:22,grouped:false,order:1},
    {label:'box',data:stats.map((s,i)=>({x:i,y:[s[1],s[3]]})),backgroundColor:cols,borderColor:bord,borderWidth:1.5,barThickness:22,grouped:false,order:2},
    {label:'whisker',data:stats.map((s,i)=>({x:i,y:[s[0],s[4]]})),backgroundColor:classColors,barThickness:1.5,grouped:false,order:3}];
  plot([l,313,l+258,482],[30,6,4,4],{type:'bar',data:{datasets:ds},options:{scales:{
    x:{type:'linear',position:'bottom',min:-.81,max:8.89,offset:false,afterBuildTicks:at(xs),ticks:{display:false},grid:{color:GRID,drawTicks:false,offset:false},border:{display:false,dash:[1,2]}},
    y:{type:'linear',position:'left',min:-8/k,max:top+6/k,afterBuildTicks:at(ticks),
       ticks:{font:{size:10,style:'italic'},color:'#222',padding:3,callback:v=>String(v)},
       grid:{color:GRID,tickLength:5,tickColor:'#333'},border:{display:true,color:'#333',width:1.5,dash:[1,2]}}}}});
}
summary(468,sumA,sumTicksA);
summary(1490,sumB,sumTicksB);

function top10(l,r,genes,pct,m,n,f,s,o,max,ticks){
  const totals=genes.map((_,i)=>m[i]+n[i]+f[i]+s[i]+o[i]);
  const ser=(a,c)=>({data:a.map((v,i)=>({x:v,y:i})),backgroundColor:c,barThickness:13.3});
  plot([l,312,r,481],[60,4,22,40],{type:'bar',data:{datasets:[ser(m,'#4AA54B'),ser(n,'#E62C2F'),ser(f,'#2F7FBD'),ser(s,'#F58233'),ser(o,'#5B3A9B')]},
    options:{indexAxis:'y',scales:{x:Object.assign(xAxis(max,ticks),{stacked:true}),y:rowAxis(genes,-.82,9.82,8)}},
    plugins:[dataText(totals.map((t,i)=>({x:t,y:i,text:pct[i],dx:2,font:'italic bold 8.5px '+FONT})))]});
}
top10(782,987,topGenesA,topPctA,topMissenseA,topNonsenseA,topFsDelA,topSpliceA,topOtherA,112,[0,37,74,112]);
top10(1803,2008,topGenesB,topPctB,topMissenseB,topNonsenseB,topFsDelB,topSpliceB,topOtherB,237,[0,79,158,237]);

// ---------- Panel C ----------
const mutColors={M:'#47A447',F:'#3A7FC0',N:'#EE2A2A',S:'#F58A2E',D:'#FBF49A',I:'#6A3D9A',H:'#111111'};
plot([47.5,585,797,687],[47.5,3,4,3],{type:'bar',data:{datasets:[
  {data:tmbTotal.map((v,i)=>({x:i,y:v-tmbNonMissense[i]})),backgroundColor:'#47A447',barThickness:2.75},
  {data:tmbNonMissense.map((v,i)=>({x:i,y:v})),backgroundColor:'#EE3030',barThickness:2.75}]},
  options:{scales:{x:{type:'linear',display:false,stacked:true,offset:false,min:-2,max:tmbTotal.length-.5},
   y:{type:'linear',position:'left',stacked:true,min:0,max:1404,afterBuildTicks:at([0,1404]),
      ticks:{font:{size:8},color:'#222',padding:3,callback:v=>String(v)},
      grid:{drawOnChartArea:false,tickLength:4,tickColor:'#333'},border:{display:true,color:'#444',width:1.2}}}}});

const cells={M:[],F:[],N:[],S:[],D:[],I:[],H:[]};
oncoRows.forEach((str,r)=>{
  const row={};
  str.split(' ').forEach(tok=>{const m=/^([MFNSDIH])(\d+)(?:-(\d+))?$/.exec(tok);if(!m)return;
    const a=+m[2],b=m[3]?+m[3]:a;for(let i=a;i<=b;i++)row[i]=m[1];});
  Object.keys(row).forEach(i=>cells[row[i]].push({x:+i+.5,y:r}));
});
plot([51.6,692,797,1077],[51.6,0,30,0],{type:'scatter',
  data:{datasets:Object.keys(cells).map(k=>({data:cells[k],pointStyle:'line',rotation:90,pointRadius:8.7,pointBorderWidth:2.7,pointBorderColor:mutColors[k],pointBackgroundColor:mutColors[k],borderColor:mutColors[k],order:k==='M'?5:1,clip:false}))},
  options:{scales:{
    x:{type:'linear',display:false,min:0,max:300},
    y:{type:'linear',position:'left',reverse:true,min:-.5,max:19.5,afterBuildTicks:at(oncoGenes.map((_,i)=>i)),
       ticks:{autoSkip:false,font:{size:10,style:'italic'},color:'#222',padding:4,callback:v=>oncoGenes[v]},grid:{display:false,drawTicks:false},border:{display:false}},
    y2:{type:'linear',position:'right',reverse:true,min:-.5,max:19.5,afterBuildTicks:at(oncoGenes.map((_,i)=>i)),
       ticks:{autoSkip:false,font:{size:10},color:'#222',padding:2,callback:v=>oncoPct[v]},grid:{display:false,drawTicks:false},border:{display:false}}}},
  plugins:[{id:'rows',beforeDatasetsDraw(ch){const c=ch.ctx,y=ch.scales.y,a=ch.chartArea;c.save();c.fillStyle='#C9CACC';
    oncoGenes.forEach((_,i)=>{const t=y.getPixelForValue(i-.46),b=y.getPixelForValue(i+.46);c.fillRect(a.left,t,a.right-a.left,b-t);});c.restore();}}]});

const cSer=(a,c)=>({data:a.map((v,i)=>({x:v,y:i})),backgroundColor:c,barThickness:17.5});
plot([824,688,1019,1077],[12,20,12,0],{type:'bar',data:{datasets:[cSer(cBarMissense,mutColors.M),cSer(cBarFsDel,mutColors.F),cSer(cBarNonsense,mutColors.N),cSer(cBarSplice,mutColors.S),cSer(cBarInDel,mutColors.D),cSer(cBarFsIns,mutColors.I),cSer(cBarMulti,mutColors.H)]},
  options:{indexAxis:'y',scales:{
    x:{type:'linear',position:'top',stacked:true,min:0,max:148,afterBuildTicks:at([0,148]),
       ticks:{font:{size:8},color:'#222',padding:7,maxRotation:0,callback:v=>String(v)},
       grid:{drawOnChartArea:false,tickLength:4,tickColor:'#444'},border:{display:true,color:'#444',width:1}},
    y:{type:'linear',display:false,reverse:true,stacked:true,offset:false,min:-.708,max:19.5}}}});

plot([51.6,1082,797,1115],[0,0,0,0],{type:'bar',data:{datasets:[
  {data:[{x:typeSplit[0],y:0}],backgroundColor:'#E31E26',barThickness:33},
  {data:[{x:typeSplit[1],y:0}],backgroundColor:'#24A488',barThickness:33}]},
  options:{indexAxis:'y',scales:{x:{type:'linear',display:false,stacked:true,min:0,max:300},y:{type:'linear',display:false,stacked:true,offset:false,min:-.5,max:.5}}}});

// ---------- Panel D ----------
const outline=(c,ys,ws)=>ys.map((y,i)=>({x:c-ws[i],y})).concat(ys.slice().reverse().map((y,i)=>({x:c+ws[ys.length-1-i],y})));
const notch=(c,b)=>[{x:c-b.half,y:b.top},{x:c+b.half,y:b.top},{x:c+b.half,y:b.notchTop},{x:c+b.waistHalf,y:b.waist},{x:c+b.half,y:b.notchBottom},{x:c+b.half,y:b.bottom},{x:c-b.half,y:b.bottom},{x:c-b.half,y:b.notchBottom},{x:c-b.waistHalf,y:b.waist},{x:c-b.half,y:b.notchTop}];
const shape=(d,col,o,smooth)=>({type:'line',data:d,polyColor:col,polySmooth:smooth,borderWidth:0,pointRadius:0,order:o});
plot([1244,522.5,1760,1153],[60,0,4,45],{type:'scatter',data:{datasets:[
  shape(outline(1,violinHighY,violinHighW),'#F47C75',6,true),
  shape(outline(2,violinLowY,violinLowW),'#1FBDC4',6,true),
  shape(notch(1,boxHigh),'#F1502D',5,false),
  shape(notch(2,boxLow),'#3DBFC9',5,false),
  {data:ptsHighX.map((v,i)=>({x:1+v,y:ptsHighY[i]})),pointRadius:3.3,pointBackgroundColor:'rgba(40,40,40,.78)',pointBorderWidth:0,order:2},
  {data:ptsLowX.map((v,i)=>({x:2+v,y:ptsLowY[i]})),pointRadius:3.3,pointBackgroundColor:'rgba(40,40,40,.78)',pointBorderWidth:0,order:2},
  {type:'line',data:[{x:1,y:1.51},{x:1,y:1.608},{x:2,y:1.608},{x:2,y:1.51}],borderColor:'#111',borderWidth:1.5,pointRadius:0,order:1}
 ]},
 options:{scales:{
   x:{type:'linear',position:'bottom',min:.402,max:2.598,afterBuildTicks:at([1,2]),
      ticks:{font:{size:13},color:'#444',padding:1,callback:v=>v===1?'High_risk':'Low_risk'},
      grid:{drawOnChartArea:false,tickLength:4,tickColor:'#222'},border:{display:true,color:'#111',width:2}},
   y:{type:'linear',position:'left',min:-1.866,max:1.768,afterBuildTicks:at([-1,0,1]),
      ticks:{font:{size:13},color:'#444',padding:2,callback:v=>v<0?'\u22121':String(v)},
      grid:{drawOnChartArea:false,tickLength:4,tickColor:'#222'},border:{display:true,color:'#111',width:2}}}},
 plugins:[{id:'poly',beforeDatasetDraw(ch,a){const ds=ch.data.datasets[a.index];if(!ds.polyColor)return;const c=ch.ctx,m=ch.getDatasetMeta(a.index).data;
    c.save();c.beginPath();
    if(ds.polySmooth){
      const half=m.length/2;
      c.moveTo(m[0].x,m[0].y);
      for(let i=1;i<half-1;i++){c.quadraticCurveTo(m[i].x,m[i].y,(m[i].x+m[i+1].x)/2,(m[i].y+m[i+1].y)/2);}
      c.lineTo(m[half-1].x,m[half-1].y);c.lineTo(m[half].x,m[half].y);
      for(let i=half+1;i<m.length-1;i++){c.quadraticCurveTo(m[i].x,m[i].y,(m[i].x+m[i+1].x)/2,(m[i].y+m[i+1].y)/2);}
      c.lineTo(m[m.length-1].x,m[m.length-1].y);
    } else m.forEach((p,i)=>i?c.lineTo(p.x,p.y):c.moveTo(p.x,p.y));
    c.closePath();c.fillStyle=ds.polyColor;c.fill();c.restore();}},
   dataText([{x:1.5,y:1.69,text:'***',font:'bold 18px '+FONT,align:'center'}])]});

// ---------- Panel E ----------
const O='#E7A92A',B='#2E9FDF';
const evenX=v=>v%2===0;
const majorY=v=>Math.abs(v*4-Math.round(v*4))<1e-6;
const xTicksE=[];for(let i=0;i<=20;i++)xTicksE.push(i);
const yTicksE=[];for(let i=0;i<=8;i++)yTicksE.push(i/8);
const frame={id:'frame',afterDraw(ch){const a=ch.chartArea,c=ch.ctx;c.save();c.strokeStyle='#444';c.lineWidth=1.4;c.strokeRect(a.left,a.top,a.right-a.left,a.bottom-a.top);c.restore();}};
const band=(d,col,fill,o)=>({type:'line',data:d,stepped:true,borderWidth:0,pointRadius:0,backgroundColor:col,fill,order:o});
plot([129.5,1409,678.6,1774],[129.5,2,8,34],{type:'scatter',data:{datasets:[
  {type:'line',data:[{x:0,y:.5},{x:4.12,y:.5}],borderColor:'#111',borderWidth:2,borderDash:[9,7],pointRadius:0,order:0},
  {type:'line',data:[{x:3.55,y:.5},{x:3.55,y:0}],borderColor:'#111',borderWidth:2,borderDash:[8,7],pointRadius:0,order:0},
  {type:'line',data:[{x:4.12,y:.5},{x:4.12,y:0}],borderColor:'#111',borderWidth:2,borderDash:[8,7],pointRadius:0,order:0},
  {data:zip(censorLowT,censorLowS),pointStyle:'cross',pointRadius:7,pointBorderWidth:2.4,pointBorderColor:B,order:1},
  {data:zip(censorHighT,censorHighS),pointStyle:'cross',pointRadius:7,pointBorderWidth:2.4,pointBorderColor:O,order:1},
  band(zip(upHighT,upHighS),'rgba(231,175,60,.36)','+1',3),
  band(zip(loHighT,loHighS),'transparent',false,3),
  band(zip(upLowT,upLowS),'rgba(70,150,220,.36)','+1',3),
  band(zip(loLowT,loLowS),'transparent',false,3),
  {type:'line',data:zip(timeHigh,survHigh),stepped:true,borderColor:O,borderWidth:4,pointRadius:0,order:4},
  {type:'line',data:zip(timeLow,survLow),stepped:true,borderColor:B,borderWidth:4,pointRadius:0,order:4}
 ]},
 options:{scales:{
  x:{type:'linear',position:'bottom',min:-.96,max:20.98,afterBuildTicks:at(xTicksE),
     ticks:{autoSkip:false,maxRotation:0,font:{size:16.5},color:'#4d4d4d',padding:3,callback:v=>evenX(v)?String(v):''},
     grid:{color:c=>c.tick&&evenX(c.tick.value)?'#dedede':'#ececec',lineWidth:c=>c.tick&&evenX(c.tick.value)?1.6:1,tickColor:c=>c.tick&&evenX(c.tick.value)?'#333':'transparent',tickLength:4},border:{display:false}},
  y:{type:'linear',position:'left',min:-.048,max:1.05,afterBuildTicks:at(yTicksE),
     ticks:{autoSkip:false,font:{size:16.5},color:'#4d4d4d',padding:3,callback:v=>majorY(v)?v.toFixed(2):''},
     grid:{color:c=>c.tick&&majorY(c.tick.value)?'#dedede':'#ececec',lineWidth:c=>c.tick&&majorY(c.tick.value)?1.6:1,tickColor:c=>c.tick&&majorY(c.tick.value)?'#333':'transparent',tickLength:4},border:{display:false}}}},
 plugins:[frame,dataText([{x:.43,y:.196,text:'p=0.478',font:'19.5px '+FONT}])]});

const riskItems=riskTimes.flatMap((t,i)=>[{x:t,y:1,text:String(riskHigh[i]),font:'23px '+FONT,align:'center'},{x:t,y:0,text:String(riskLow[i]),font:'23px '+FONT,align:'center'}]);
plot([129.5,1879,678.6,1990],[129.5,2,8,2],{type:'scatter',data:{datasets:[
  {data:riskTimes.map(t=>({x:t,y:1})),pointRadius:0},{data:riskTimes.map(t=>({x:t,y:0})),pointRadius:0}]},
 options:{scales:{
  x:{type:'linear',display:true,position:'bottom',min:-.96,max:20.98,afterBuildTicks:at(xTicksE),ticks:{display:false},
     grid:{color:c=>c.tick&&evenX(c.tick.value)?'#dedede':'#ececec',lineWidth:c=>c.tick&&evenX(c.tick.value)?1.6:1,drawTicks:false},border:{display:false}},
  y:{type:'linear',position:'left',min:-.59,max:1.59,afterBuildTicks:at([0,1]),
     ticks:{font:{size:16.5},padding:11,color:c=>c.tick.value===1?O:B,callback:v=>v===1?'High TMB':'Low TMB'},
     grid:{color:'#dedede',lineWidth:1.6,drawTicks:false},border:{display:false}}}},
 plugins:[frame,dataText(riskItems)]});

// ---------- Panel F ----------
plot([879,1329,2048,1948.5],[60,10,2,163],{type:'bar',data:{datasets:[
  {data:cnvGain.map((v,i)=>({x:i,y:v})),backgroundColor:'#BFBFC1',barThickness:52,order:3},
  {type:'scatter',data:cnvGain.map((v,i)=>({x:i,y:v})),pointRadius:12,pointBackgroundColor:'#E8546F',pointBorderWidth:0,order:1},
  {type:'scatter',data:cnvLoss.map((v,i)=>({x:i,y:v})),pointRadius:12,pointBackgroundColor:'#2A93D5',pointBorderWidth:0,order:1}]},
 options:{scales:{
  x:{type:'linear',position:'bottom',offset:false,min:-.539,max:8.494,afterBuildTicks:at(cnvGenes.map((_,i)=>i)),
     ticks:{display:false},grid:{display:false,offset:false},border:{display:false}},
  y:{type:'linear',display:false,min:0,max:70}}},
 plugins:[{id:'slantLabels',afterDraw(ch){const x=ch.scales.x,c=ch.ctx,y0=ch.chartArea.bottom+27;c.save();c.font='italic 26px '+FONT;c.fillStyle='#111';c.textAlign='right';c.textBaseline='middle';
   cnvGenes.forEach((g,i)=>{c.save();c.translate(x.getPixelForValue(i)+7,y0);c.rotate(-44*Math.PI/180);c.fillText(g,0,0);c.restore();});c.restore();}}]});
// y axis of panel F, its labels turned to read upwards
plot([879,1329,880,1948.5],[70,30,0,30],{type:'scatter',data:{datasets:[]},
 options:{scales:{
  x:{type:'linear',display:false,min:0,max:1},
  y:{type:'linear',position:'left',min:0,max:70,afterBuildTicks:at([0,10,20,30,40,50,60,70]),
     ticks:{display:false},grid:{drawOnChartArea:false,tickLength:16,tickColor:'#111',lineWidth:1.4},border:{display:true,color:'#111',width:1.6}}}},
 plugins:[{id:'upTicks',afterDraw(ch){const y=ch.scales.y,c=ch.ctx;c.save();c.font='bold 30px '+FONT;c.fillStyle='#111';c.textAlign='center';c.textBaseline='middle';
   y.ticks.forEach(t=>{c.save();c.translate(ch.chartArea.left-45,y.getPixelForValue(t.value));c.rotate(-Math.PI/2);c.fillText(String(t.value),0,0);c.restore();});c.restore();}}]});

// ---------- Text and keys ----------
const L={size:47,bold:true,color:'#000'};
T('A',8,24,L);T('B',1010,24,L);T('C',9,535,L);T('D',1199,537,L);T('E',10,1323,L);T('F',753,1289,L);
[[107,478,770],[1129,1500,1792]].forEach(a=>{T('Variant Classification',a[0],21,{size:9.5,bold:true});T('Variant Type',a[1],21,{size:9.5,bold:true});T('SNV Class',a[2],21,{size:9.5,bold:true});});
T('Variants per sample',29,287,{size:9.5,bold:true});T('Median: 122',29,299,{size:6.5,bold:true});
T('Variant Classification',467,287,{size:9.5,bold:true});T('summary',467,298,{size:9.5,bold:true});
T('Top 10',781,290,{size:9.5,bold:true});T('mutated genes',781,302,{size:9.5,bold:true});
T('Variants per sample',1050,287,{size:9.5,bold:true});T('Median: 225.5',1050,299,{size:6.5,bold:true});
T('Variant Classification',1488,287,{size:9.5,bold:true});T('summary',1488,298,{size:9.5,bold:true});
T('Top 10',1803,290,{size:9.5,bold:true});T('mutated genes',1803,302,{size:9.5,bold:true});
T('Altered in 276 (92%) of 300 samples.',518,519,{size:11.3,bold:true,align:'center'});
T('TMB',30,635,{size:7,align:'center',rot:-90});
T('No. of samples',922,684,{size:6.5,align:'center'});
T('Type',800,1100,{size:9});
[['Missense_Mutation',mutColors.M,19,27,1128],['Frame_Shift_Del',mutColors.F,19,27,1138.6],['Nonsense_Mutation',mutColors.N,19,27,1149],['Splice_Site',mutColors.S,19,27,1160],['In_Frame_Del',mutColors.D,119,128,1128],['Frame_Shift_Ins',mutColors.I,119,128,1138.6],['Multi_Hit',mutColors.H,119,128,1149]].forEach(r=>{K(r[2]-2.5,r[4]-2.5,5,5,r[1]);T(r[0],r[3],r[4],{size:9.5});});
T('Type',253,1129,{size:8.5});
K(258,1141,5,5,'#E31E26');T('High_risk',269,1143.7,{size:9});
K(258,1151.5,5,5,'#24A488');T('Low_risk',269,1154,{size:9});
T('total_perMB_log',1212,836,{size:14.5,bold:true,align:'center',rot:-90});
T('Discovery Set',1503,1180,{size:14.5,bold:true,align:'center'});
T('Type',1784,810,{size:14.5});
K(1784,825,23,22,'#F47C75');K(1788,833,15,2.5,'#fff');K(1788,838,15,2.5,'#fff');T('High_risk',1814,836,{size:12.5});
K(1784,848,23,22,'#1FBDC4');K(1788,856,15,2.5,'#fff');K(1788,861,15,2.5,'#fff');T('Low_risk',1814,859.5,{size:12.5});
T('Survival probability',27,1590,{size:20,align:'center',rot:-90});
T('Time(years)',404,1813,{size:20.4,align:'center'});
T('Risk',257,1361.6,{size:20});
K(308,1346,30,30,'#F5E2BB');K(310,1359.5,26,3,O);K(322.5,1353,1.6,16,O);T('High TMB',350,1361.6,{size:17});
K(437,1346,30,30,'#BFDAF0');K(439,1359.5,26,3,B);K(451.5,1353,1.6,16,B);T('Low TMB',480,1361.6,{size:17});
T('CNV.frequency(%)',762,1636,{size:34,align:'center',rot:-90});
K(1267,1372,16,16,'#E8546F','border-radius:50%');T('GAIN',1322,1380,{size:50.5});
K(1492,1372,16,16,'#2A93D5','border-radius:50%');T('LOSS',1546,1380,{size:50.5});
</script></body></html>
